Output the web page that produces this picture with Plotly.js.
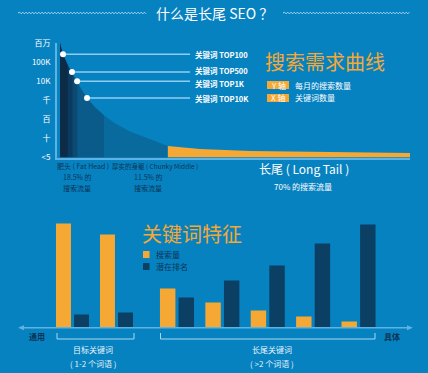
<!DOCTYPE html>
<html>
<head>
<meta charset="utf-8">
<script src="https://cdn.plot.ly/plotly-3.0.1.min.js"></script>
<style>
html,body{margin:0;padding:0;background:#0782c1;}
#chart{width:428px;height:373px;}
</style>
</head>
<body>
<div id="chart"></div>
<script>
// ---------- DATA ----------
// Search demand curve: keyword share (%) vs monthly searches
var curveX = [0.85, 1.7, 3.1, 4.25, 4.5, 5.7, 5.9, 7.1, 8.5, 10.8, 13.3, 16.4, 20.7, 26.3, 31.4, 40.5, 54.7, 68.8, 83, 100];
var curveY = [1.07e6, 2.6e5, 6.9e4, 3.0e4, 2.3e4, 1.0e4, 7.8e3, 3.4e3, 1.3e3, 430, 162, 62, 23, 8.9, 4.0, 2.8, 2.2, 2.0, 1.8, 1.7];
// Segment boundaries along the curve (fat head bands, chunky middle, long tail)
var segBounds = [0.85, 3.1, 4.5, 5.9, 13.3, 31.4, 100];
// Marked keyword ranks
var topX = [1.7, 4.25, 5.7, 8.5];
var topY = [2.6e5, 3.0e4, 1.0e4, 1.3e3];
var topLabels = ['关键词 TOP100', '关键词 TOP500', '关键词 TOP1K', '关键词 TOP10K'];
// Y axis ticks
var yTickVals = [1, 10, 100, 1000, 1e4, 1e5, 1e6];
var yTickText = ['<5', '十', '百', '千', '10K', '100K', '百万'];

// Keyword features bar chart
var headCats = ['目标1', '目标2'];
var tailCats = ['长尾1', '长尾2', '长尾3', '长尾4', '长尾5'];
var searchVolume = [104, 93, 39, 25, 17, 11, 6];
var rankPotential = [13, 15, 30, 47, 62, 84, 103];

// ---------- STYLE ----------
var BG = '#0782c1';
var ORANGE = '#f6a834';
var NAVY = '#0b3f63';
var DARKTXT = '#0c3354';
var AXIS = '#5cb3e4';
var FONT = 'Noto Sans CJK SC, Noto Sans, sans-serif';
var segColors = ['#0b2b46', '#0b3a5e', '#0c4a74', '#0a5a8a', '#096a9e', ORANGE];
var labelShift = [0, 2, -2, 0];

var W = 428, H = 373;
function px(x){return x / W;}
function py(y){return 1 - y / H;}

var traces = [];
// Filled segments under the curve
for (var s = 0; s < segBounds.length - 1; s++) {
  var a = segBounds[s], b = segBounds[s + 1];
  var xs = [], ys = [];
  for (var i = 0; i < curveX.length; i++) {
    if (curveX[i] >= a && curveX[i] <= b) { xs.push(curveX[i]); ys.push(curveY[i]); }
  }
  xs.push(b, a); ys.push(1, 1);
  traces.push({x: xs, y: ys, type: 'scatter', mode: 'lines', fill: 'toself',
    fillcolor: segColors[s], line: {width: 0}, hoverinfo: 'skip', xaxis: 'x', yaxis: 'y', showlegend: false});
}
// Leader lines from marked ranks
var LEAD_END = 37.7;
for (var k = 0; k < topX.length; k++) {
  traces.push({x: [topX[k], LEAD_END], y: [topY[k], topY[k]], type: 'scatter', mode: 'lines',
    line: {color: '#8fcdf0', width: 1.5}, hoverinfo: 'skip', xaxis: 'x', yaxis: 'y', showlegend: false});
}
traces.push({x: topX, y: topY, type: 'scatter', mode: 'markers',
  marker: {color: '#ffffff', size: 6}, hoverinfo: 'skip', xaxis: 'x', yaxis: 'y', showlegend: false});

// Bars
var nHead = headCats.length;
traces.push({x: headCats, y: searchVolume.slice(0, nHead), type: 'bar', marker: {color: ORANGE}, xaxis: 'x2', yaxis: 'y2', showlegend: false});
traces.push({x: headCats, y: rankPotential.slice(0, nHead), type: 'bar', marker: {color: NAVY}, xaxis: 'x2', yaxis: 'y2', showlegend: false});
traces.push({x: tailCats, y: searchVolume.slice(nHead), type: 'bar', marker: {color: ORANGE}, xaxis: 'x3', yaxis: 'y2', showlegend: false});
traces.push({x: tailCats, y: rankPotential.slice(nHead), type: 'bar', marker: {color: NAVY}, xaxis: 'x3', yaxis: 'y2', showlegend: false});

// ---------- ANNOTATIONS ----------
var ann = [];
function T(text, x, y, size, color, anchor, extra) {
  var o = {text: text, x: px(x), y: py(y), xref: 'paper', yref: 'paper', showarrow: false,
    xanchor: anchor || 'center', yanchor: 'middle', font: {family: FONT, size: size, color: color}};
  if (extra) for (var key in extra) o[key] = extra[key];
  ann.push(o);
}
T('什么是长尾 SEO ？', 214, 13, 14, '#ffffff');
T('搜索需求曲线', 325, 61, 20, ORANGE);
T('Y 轴', 278, 85, 8, '#ffffff');
T('X 轴', 278, 98, 8, '#ffffff');
T('每月的搜索数量', 293, 85, 8, '#ffffff', 'left');
T('关键词数量', 293, 98, 8, '#ffffff', 'left');
for (var k = 0; k < topLabels.length; k++) {
  ann.push({text: '<b>' + topLabels[k] + '</b>', x: LEAD_END + 0.8, y: Math.log10(topY[k]), xref: 'x', yref: 'y',
    yshift: labelShift[k], showarrow: false, xanchor: 'left', yanchor: 'middle',
    font: {family: FONT, size: 7.5, color: '#ffffff'}});
}
T('肥头 ( Fat Head )', 55, 166, 7, DARKTXT, 'left');
T('厚实的身躯 ( Chunky Middle )', 110, 166, 6.5, DARKTXT, 'left');
T('18.5% 的', 77, 177, 7, DARKTXT);
T('搜索流量', 77, 188, 7, DARKTXT);
T('11.5% 的', 148, 177, 7, DARKTXT);
T('搜索流量', 148, 188, 7, DARKTXT);
T('长尾 ( Long Tail )', 304, 168, 12, '#ffffff');
T('70% 的搜索流量', 303, 186, 8, '#ffffff');
T('关键词特征', 192, 233, 20, ORANGE);
T('搜索量', 154, 254.5, 8, DARKTXT, 'left');
T('潜在排名', 154, 266.5, 8, DARKTXT, 'left');
T('<b>通用</b>', 37, 336, 8, DARKTXT);
T('<b>具体</b>', 392, 336, 8, DARKTXT);
T('目标关键词', 93, 349, 8, '#e6f3fb');
T('( 1-2 个词语 )', 93, 363, 8, '#e6f3fb');
T('长尾关键词', 272, 349, 8, '#e6f3fb');
T('( >2 个词语 )', 272, 363, 8, '#e6f3fb');

// ---------- SHAPES ----------
var shapes = [];
function rect(x0, y0, x1, y1, color) {
  shapes.push({type: 'rect', xref: 'paper', yref: 'paper', x0: px(x0), x1: px(x1), y0: py(y0), y1: py(y1),
    fillcolor: color, line: {width: 0}, layer: 'below'});
}
function line(x0, y0, x1, y1, color, w) {
  shapes.push({type: 'line', xref: 'paper', yref: 'paper', x0: px(x0), x1: px(x1), y0: py(y0), y1: py(y1),
    line: {color: color, width: w}});
}
function path(d, fill, color, w) {
  shapes.push({type: 'path', xref: 'paper', yref: 'paper', path: d, fillcolor: fill, line: {color: color, width: w}});
}
function P(x, y){return px(x) + ',' + py(y);}
// wavy title decorations
function wave(x0, x1, y) {
  var d = 'M' + P(x0, y), up = true;
  for (var x = x0 + 1.6; x <= x1; x += 1.6) { d += ' L' + P(x, y + (up ? -0.8 : 0.8)); up = !up; }
  path(d, 'rgba(0,0,0,0)', 'rgba(200,230,250,0.85)', 1);
}
wave(18, 146, 13);
wave(283, 411, 13);
// legend boxes (top)
rect(267, 81, 289, 89, ORANGE);
rect(267, 94, 289, 102, ORANGE);
// legend squares (bottom)
rect(143, 251, 149.5, 258, ORANGE);
rect(143, 263, 149.5, 270, NAVY);
// bottom axis arrow
line(22, 327.8, 409, 327.8, AXIS, 1.5);
path('M' + P(18, 327.8) + ' L' + P(24, 325.3) + ' L' + P(24, 330.3) + ' Z', AXIS, AXIS, 0);
path('M' + P(413, 327.8) + ' L' + P(407, 325.3) + ' L' + P(407, 330.3) + ' Z', AXIS, AXIS, 0);
// brackets
var BR = '#a8d8f3';
path('M' + P(57, 333) + ' L' + P(57, 339) + ' L' + P(134, 339) + ' L' + P(134, 333), 'rgba(0,0,0,0)', BR, 1);
path('M' + P(160.5, 333) + ' L' + P(160.5, 339) + ' L' + P(375, 339) + ' L' + P(375, 333), 'rgba(0,0,0,0)', BR, 1);

var layout = {
  width: W, height: H,
  margin: {l: 0, r: 0, t: 0, b: 0},
  paper_bgcolor: BG, plot_bgcolor: 'rgba(0,0,0,0)',
  showlegend: false,
  barmode: 'group', bargap: 0.18, bargroupgap: 0.17,
  xaxis: {domain: [px(57), px(410)], range: [0, 100], showline: true, linecolor: AXIS, linewidth: 2,
    showgrid: false, zeroline: false, showticklabels: false, ticks: '', anchor: 'y', fixedrange: true},
  yaxis: {domain: [py(157.5), py(42.5)], type: 'log', range: [0, 6.03], showline: true, linecolor: AXIS, linewidth: 2,
    showgrid: false, zeroline: false, tickvals: yTickVals, ticktext: yTickText, ticks: 'outside', ticklen: 3,
    tickcolor: 'rgba(0,0,0,0)', tickfont: {family: FONT, size: 8, color: '#ffffff'}, anchor: 'x', fixedrange: true},
  xaxis2: {domain: [px(50.5), px(138.5)], range: [-0.5, 1.5], type: 'category', showline: false, showgrid: false,
    zeroline: false, showticklabels: false, ticks: '', anchor: 'y2', fixedrange: true},
  xaxis3: {domain: [px(154.3), px(381.2)], range: [-0.5, 4.5], type: 'category', showline: false, showgrid: false,
    zeroline: false, showticklabels: false, ticks: '', anchor: 'y2', fixedrange: true},
  yaxis2: {domain: [py(327.5), py(223)], range: [0, 104.5], showline: false, showgrid: false, zeroline: false,
    showticklabels: false, ticks: '', anchor: 'x2', fixedrange: true},
  annotations: ann,
  shapes: shapes
};

Plotly.newPlot('chart', traces, layout, {displayModeBar: false, staticPlot: true});
</script>
</body>
</html>
